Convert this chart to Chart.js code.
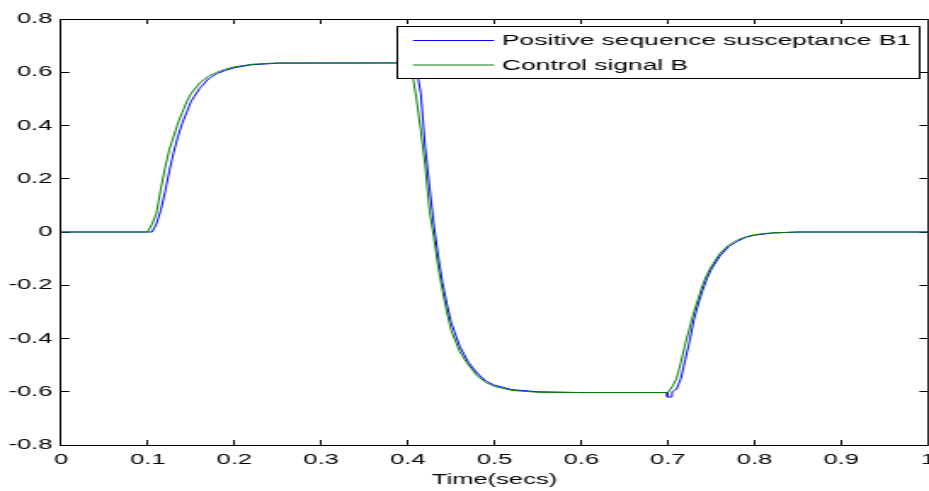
<!DOCTYPE html>
<html>
<head>
<meta charset="utf-8">
<script src="https://cdn.jsdelivr.net/npm/chart.js@4.4.1/dist/chart.umd.min.js"></script>
<style>
html,body{margin:0;padding:0;background:#fff;overflow:hidden;}
#frame{position:relative;width:929px;height:491px;overflow:hidden;background:#fff;}
#wrap{position:absolute;left:0;top:0;width:556px;height:491px;transform:scaleX(1.7015);transform-origin:0 0;}
</style>
</head>
<body>
<div id="frame"><div id="wrap"><canvas id="c"></canvas></div></div>
<script>
// ---- data ----
const xTicks = [0, 0.1, 0.2, 0.3, 0.4, 0.5, 0.6, 0.7, 0.8, 0.9, 1];
const yTicks = [-0.8, -0.6, -0.4, -0.2, 0, 0.2, 0.4, 0.6, 0.8];
const seriesNames = ['Positive sequence susceptance B1', 'Control signal B'];

const timeB1 = [0, 0.105, 0.11, 0.115, 0.12, 0.125, 0.13, 0.135, 0.14, 0.145, 0.15, 0.16, 0.17, 0.18, 0.19, 0.20, 0.22, 0.25, 0.40, 0.405, 0.41, 0.415, 0.42, 0.425, 0.43, 0.435, 0.44, 0.445, 0.45, 0.46, 0.47, 0.48, 0.49, 0.50, 0.52, 0.55, 0.60, 0.699, 0.6995, 0.7045, 0.705, 0.71, 0.715, 0.72, 0.725, 0.73, 0.735, 0.74, 0.745, 0.75, 0.76, 0.77, 0.78, 0.79, 0.80, 0.82, 0.85, 1.0];
const valuesB1 = [0, 0, 0.03, 0.08, 0.15, 0.23, 0.30, 0.36, 0.41, 0.45, 0.49, 0.54, 0.575, 0.595, 0.607, 0.617, 0.628, 0.634, 0.635, 0.63, 0.61, 0.52, 0.32, 0.17, 0.03, -0.09, -0.19, -0.27, -0.34, -0.43, -0.49, -0.53, -0.56, -0.575, -0.592, -0.60, -0.603, -0.603, -0.62, -0.62, -0.60, -0.59, -0.55, -0.48, -0.41, -0.33, -0.27, -0.22, -0.175, -0.14, -0.09, -0.055, -0.035, -0.02, -0.012, -0.004, 0, 0];

const timeB = [0, 0.10, 0.105, 0.11, 0.115, 0.12, 0.125, 0.13, 0.135, 0.14, 0.145, 0.15, 0.16, 0.17, 0.18, 0.19, 0.20, 0.22, 0.25, 0.40, 0.405, 0.41, 0.415, 0.42, 0.425, 0.43, 0.435, 0.44, 0.445, 0.45, 0.46, 0.47, 0.48, 0.49, 0.50, 0.52, 0.55, 0.60, 0.70, 0.703, 0.706, 0.71, 0.715, 0.72, 0.725, 0.73, 0.735, 0.74, 0.745, 0.75, 0.76, 0.77, 0.78, 0.79, 0.80, 0.82, 0.85, 1.0];
const valuesB = [0, 0, 0.03, 0.07, 0.16, 0.24, 0.31, 0.36, 0.41, 0.45, 0.49, 0.52, 0.56, 0.585, 0.60, 0.612, 0.62, 0.63, 0.635, 0.635, 0.60, 0.50, 0.38, 0.25, 0.08, -0.02, -0.13, -0.22, -0.30, -0.37, -0.45, -0.50, -0.54, -0.565, -0.58, -0.595, -0.602, -0.603, -0.603, -0.59, -0.575, -0.55, -0.49, -0.42, -0.36, -0.30, -0.25, -0.20, -0.16, -0.13, -0.08, -0.05, -0.03, -0.018, -0.01, -0.003, 0, 0];

// ---- chart ----
const FONT = '"Liberation Sans", Arial, Helvetica, sans-serif';
Chart.defaults.font.family = FONT;
Chart.defaults.font.size = 15;
Chart.defaults.color = '#000';

const toPts = (xs, ys) => xs.map((x, i) => ({x: x, y: ys[i]}));
const fmt = v => String(Number(v.toFixed(1)));

const axisGrid = {display: true, drawOnChartArea: false, drawTicks: true, tickLength: -5, color: '#000', lineWidth: 1};
const axisBorder = {display: true, color: '#000', width: 1};

const legendBox = {
  id: 'legendBox',
  afterDraw(chart) {
    const ctx = chart.ctx;
    const left = 233.5, top = 26.5, w = 307, h = 52;
    ctx.save();
    ctx.fillStyle = '#fff';
    ctx.fillRect(left, top, w, h);
    ctx.strokeStyle = '#000';
    ctx.lineWidth = 1;
    ctx.strokeRect(left, top, w, h);
    ctx.font = '15.5px ' + FONT;
    ctx.textBaseline = 'middle';
    ctx.textAlign = 'left';
    const rows = [40, 64.5];
    chart.data.datasets.forEach((ds, i) => {
      const y = rows[i];
      ctx.strokeStyle = ds.borderColor;
      ctx.lineWidth = 1;
      ctx.beginPath();
      ctx.moveTo(242.7, y + 0.5);
      ctx.lineTo(290.3, y + 0.5);
      ctx.stroke();
      ctx.fillStyle = '#000';
      ctx.fillText(ds.label, 295, y + 1);
    });
    ctx.restore();
  }
};

const noSidePad = s => { s.paddingLeft = 0; s.paddingRight = 0; };

new Chart(document.getElementById('c'), {
  type: 'line',
  data: {
    datasets: [
      {label: seriesNames[0], data: toPts(timeB1, valuesB1), borderColor: '#0000ff', borderWidth: 1, pointRadius: 0, tension: 0, fill: false, order: 1},
      {label: seriesNames[1], data: toPts(timeB, valuesB), borderColor: '#008000', borderWidth: 1, pointRadius: 0, tension: 0, fill: false, order: 0}
    ]
  },
  options: {
    responsive: true,
    maintainAspectRatio: false,
    animation: false,
    events: [],
    layout: {padding: {left: 0, right: 10.6, top: 18, bottom: 0}},
    plugins: {legend: {display: false}, tooltip: {enabled: false}},
    scales: {
      x: {
        type: 'linear', position: 'bottom', min: 0, max: 1,
        afterBuildTicks: s => { s.ticks = xTicks.map(v => ({value: v})); },
        afterFit: s => { s.height = 46; noSidePad(s); },
        ticks: {padding: 11, maxRotation: 0, autoSkip: false, callback: v => fmt(v), font: {size: 15}},
        grid: axisGrid, border: axisBorder,
        title: {display: true, text: 'Time(secs)', font: {size: 15}, padding: {top: 0, bottom: 2}}
      },
      x2: {
        type: 'linear', position: 'top', min: 0, max: 1,
        afterBuildTicks: s => { s.ticks = xTicks.map(v => ({value: v})); },
        afterFit: s => { s.height = 0; noSidePad(s); },
        ticks: {display: false},
        grid: axisGrid, border: axisBorder
      },
      y: {
        type: 'linear', position: 'left', min: -0.8, max: 0.8,
        afterBuildTicks: s => { s.ticks = yTicks.map(v => ({value: v})); },
        afterFit: s => { s.width = 35.85; },
        ticks: {padding: 10, autoSkip: false, callback: v => fmt(v), font: {size: 15}},
        grid: axisGrid, border: axisBorder
      },
      y2: {
        type: 'linear', position: 'right', min: -0.8, max: 0.8,
        afterBuildTicks: s => { s.ticks = yTicks.map(v => ({value: v})); },
        afterFit: s => { s.width = 0; },
        ticks: {display: false},
        grid: axisGrid, border: axisBorder
      }
    }
  },
  plugins: [legendBox]
});
</script>
</body>
</html>
